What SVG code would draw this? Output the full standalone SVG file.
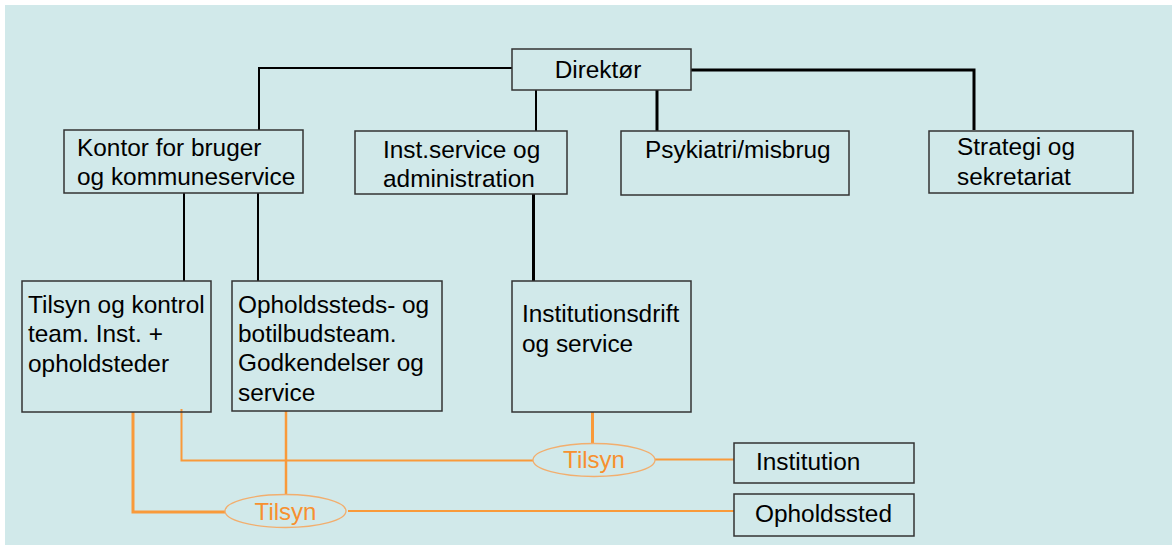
<svg xmlns="http://www.w3.org/2000/svg" width="1172" height="545" viewBox="0 0 1172 545">
<style>
.box{fill:none;stroke:#333;stroke-width:1.5}
.t{font-family:"Liberation Sans",Arial,sans-serif;font-size:24.4px;fill:#000}
.o{font-family:"Liberation Sans",Arial,sans-serif;font-size:24px;fill:#F7902F}
.k{fill:none;stroke:#000}
.or{fill:none;stroke:#F99A3A}
.ell{fill:none;stroke:#F2AE6E;stroke-width:1.3}
</style>
<rect x="0" y="0" width="1172" height="545" fill="#ffffff"/>
<rect x="5" y="5" width="1167" height="540" fill="#D1E9EA"/>
<g id="connectors">
<polyline class="k" stroke-width="2" points="512,68 259,68 259,130"/>
<polyline class="k" stroke-width="3" points="691,70 974,70 974,130"/>
<line class="k" stroke-width="2" x1="536" y1="90" x2="536" y2="131"/>
<line class="k" stroke-width="3" x1="657" y1="90" x2="657" y2="131"/>
<line class="k" stroke-width="2" x1="184" y1="193" x2="184" y2="281"/>
<line class="k" stroke-width="2" x1="258" y1="193" x2="258" y2="281"/>
<line class="k" stroke-width="3" x1="533.5" y1="194" x2="533.5" y2="281"/>
<polyline class="or" stroke-width="3" points="133,412 133,512 225,512"/>
<polyline class="or" stroke-width="2" points="181.5,409 181.5,460.5 533,460.5"/>
<line class="or" stroke-width="2.5" x1="286" y1="411" x2="286" y2="494"/>
<line class="or" stroke-width="2" x1="348" y1="511" x2="734" y2="511"/>
<line class="or" stroke-width="3" x1="592.5" y1="412" x2="592.5" y2="444"/>
<line class="or" stroke-width="2" x1="655" y1="459.5" x2="734" y2="459.5"/>
</g>
<g id="direktor">
<rect class="box" x="512" y="49" width="179" height="41"/>
<text class="t" x="598" y="78" text-anchor="middle">Direktør</text>
</g>
<g id="kontor">
<rect class="box" x="64" y="130" width="239" height="63"/>
<text class="t" x="77" y="156">Kontor for bruger</text>
<text class="t" x="77" y="185">og kommuneservice</text>
</g>
<g id="instservice">
<rect class="box" x="355" y="131" width="212" height="63"/>
<text class="t" x="383" y="158">Inst.service og</text>
<text class="t" x="383" y="187">administration</text>
</g>
<g id="psykiatri">
<rect class="box" x="621" y="131" width="228" height="64"/>
<text class="t" x="645" y="158">Psykiatri/misbrug</text>
</g>
<g id="strategi">
<rect class="box" x="929" y="131" width="204" height="62"/>
<text class="t" x="957" y="155">Strategi og</text>
<text class="t" x="957" y="185">sekretariat</text>
</g>
<g id="tilsynkontrol">
<rect class="box" x="22" y="281" width="189" height="131"/>
<text class="t" x="28" y="313">Tilsyn og kontrol</text>
<text class="t" x="28" y="342">team. Inst. +</text>
<text class="t" x="28" y="372">opholdsteder</text>
</g>
<g id="opholdssteds">
<rect class="box" x="232" y="281" width="210" height="130"/>
<text class="t" x="238" y="313">Opholdssteds- og</text>
<text class="t" x="238" y="342">botilbudsteam.</text>
<text class="t" x="238" y="371">Godkendelser og</text>
<text class="t" x="238" y="401">service</text>
</g>
<g id="institutionsdrift">
<rect class="box" x="512" y="281" width="179" height="131"/>
<text class="t" x="522" y="322">Institutionsdrift</text>
<text class="t" x="522" y="352">og service</text>
</g>
<g id="tilsyn1">
<ellipse class="ell" cx="594" cy="460" rx="61" ry="16.5"/>
<text class="o" x="594" y="468" text-anchor="middle">Tilsyn</text>
</g>
<g id="tilsyn2">
<ellipse class="ell" cx="285.5" cy="511" rx="60.5" ry="16.5"/>
<text class="o" x="285.5" y="520" text-anchor="middle">Tilsyn</text>
</g>
<g id="institution">
<rect class="box" x="734" y="443" width="180" height="40"/>
<text class="t" x="756" y="470">Institution</text>
</g>
<g id="opholdssted">
<rect class="box" x="734" y="494" width="180" height="42"/>
<text class="t" x="755" y="522">Opholdssted</text>
</g>
</svg>
